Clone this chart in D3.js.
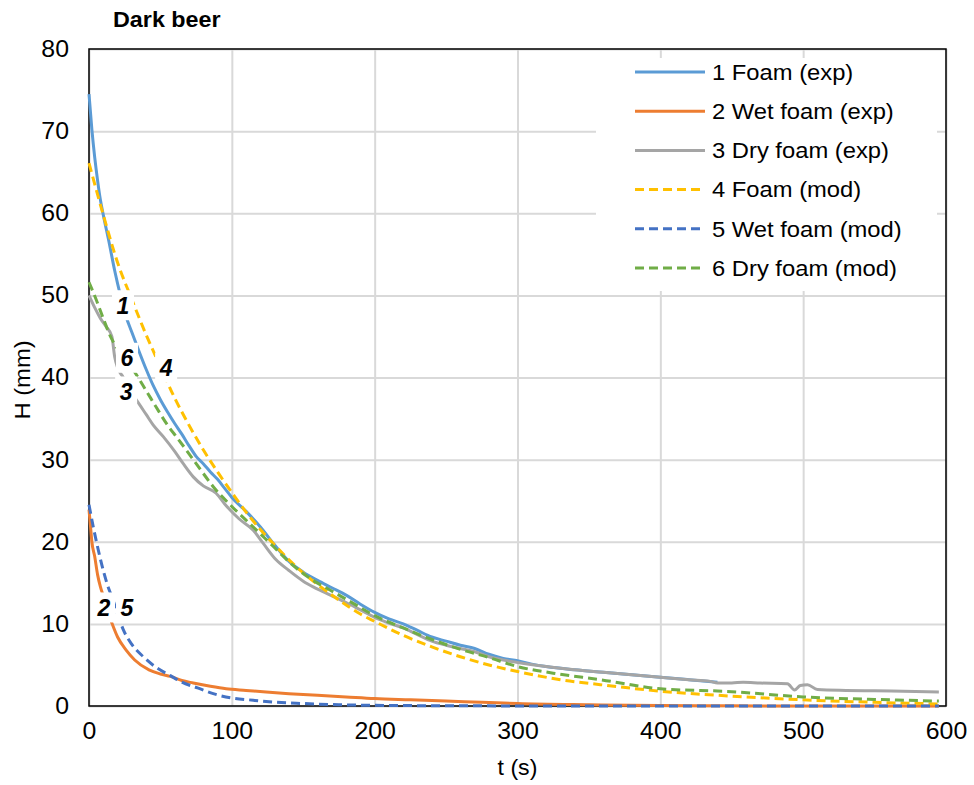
<!DOCTYPE html>
<html>
<head>
<meta charset="utf-8">
<script src="https://cdn.jsdelivr.net/npm/d3@7"></script>
<style>
  body { margin: 0; background: #fff; }
  text { font-family: 'Liberation Sans', Arial, sans-serif; fill: #000; }
  .grid .tick text { font-size: 23px; }
  .grid line { stroke: #d9d9d9; stroke-width: 2; }
  .legend-text { font-size: 22px; }
  .axis-label { font-size: 22px; }
  .curve-label { font-size: 23px; font-weight: bold; font-style: italic; }
</style>
</head>
<body>
<svg width="974" height="785"></svg>
<script>
// series values: [t (s), H (mm)]
const foamExp = [[0,74.5],[2,70.2],[4,66.8],[6,64],[8,61.6],[10,59.8],[14,56.5],[18,53],[22,50],[26,47.4],[30,45.5],[35,43.2],[40,41],[45,39],[50,37.3],[55,35.8],[60,34.4],[65,33.1],[70,31.7],[75,30.4],[80,29.5],[85,28.5],[90,27.6],[95,26.5],[100,25.4],[110,23.7],[120,21.8],[130,19.6],[140,17.6],[150,16.3],[160,15.3],[170,14.4],[180,13.5],[190,12.4],[200,11.4],[210,10.6],[220,10],[230,9.2],[240,8.4],[250,7.9],[260,7.4],[270,7],[280,6.3],[290,5.8],[300,5.5],[310,5.1],[320,4.8],[340,4.4],[360,4.1],[380,3.8],[400,3.5],[420,3.2],[440,2.9]];
const wetExp = [[0,23.9],[1,22],[2,20],[4,18.2],[6,16],[8,14.5],[10,13.4],[13,11.5],[16,10.1],[20,8.4],[26,6.8],[32,5.6],[42,4.4],[50,3.9],[57,3.6],[65,3.1],[73,2.8],[85,2.4],[96,2.1],[110,1.9],[124,1.7],[140,1.5],[160,1.3],[180,1.1],[200,0.9],[225,0.75],[250,0.6],[275,0.45],[300,0.3],[350,0.15],[400,0.05],[450,0.02],[500,0],[595,0]];
const dryExp = [[0,50],[4,48.5],[8,47.2],[12,46.2],[16,45],[18,42.5],[20,41.2],[24,40],[28,38.5],[33,37.3],[40,35.5],[45,34.2],[52,32.8],[60,31],[66,29.5],[73,27.9],[80,26.8],[89,25.9],[95,24.6],[105,22.8],[115,21.4],[122,19.8],[131,17.8],[140,16.5],[150,15.2],[157,14.5],[169,13.5],[180,12.6],[190,11.7],[200,10.8],[210,10.1],[220,9.5],[230,8.7],[240,7.9],[250,7.4],[260,7],[270,6.6],[280,6],[290,5.6],[300,5.3],[320,4.8],[340,4.4],[360,4.1],[380,3.8],[400,3.5],[420,3.2],[435,3],[440,2.8],[450,2.8],[458,2.9],[470,2.8],[489,2.7],[494,1.95],[498,2.5],[503,2.6],[510,2],[530,1.9],[550,1.85],[570,1.8],[595,1.7]];
const foamMod = [[0,66.1],[10,59.8],[20,54],[30,49.5],[40,45.2],[50,41.3],[60,37.5],[70,34.2],[80,31.2],[90,28.5],[100,26],[110,23.6],[120,21.5],[130,19.6],[140,17.8],[150,16.2],[160,14.8],[175,12.9],[190,11.2],[200,10.3],[220,8.6],[240,7.2],[260,6],[280,5],[300,4.2],[330,3.2],[358,2.6],[400,1.8],[450,1.2],[500,0.75],[550,0.45],[595,0.25]];
const wetMod = [[0,24.5],[3,21.8],[6.5,19],[10,16.5],[13,14.7],[16,13.3],[20,11.2],[24,9.3],[30,7.5],[38,6],[47,4.7],[57,3.7],[65,2.9],[76,2.2],[87,1.5],[99,1],[115,0.7],[131,0.45],[150,0.3],[175,0.15],[200,0.08],[250,0.03],[300,0.01],[350,0],[595,0]];
const dryMod = [[0,51.6],[5,49.5],[10,47.2],[15,45],[20,43.5],[25,42.2],[31,40.9],[40,38.4],[47,36.4],[55,34.2],[62,32.6],[68,31.2],[78,28.8],[87,26.7],[100,24.3],[115,21.8],[128,19.6],[141,17.4],[155,15.5],[169,14.1],[185,12.5],[200,11],[220,9.5],[240,8.1],[260,6.9],[280,5.9],[300,4.8],[325,4],[358,3.2],[400,2.1],[450,1.75],[500,1.1],[550,0.8],[595,0.6]];

const seriesNames = ['1 Foam (exp)', '2 Wet foam (exp)', '3 Dry foam (exp)', '4 Foam (mod)', '5 Wet foam (mod)', '6 Dry foam (mod)'];
const seriesData = [foamExp, wetExp, dryExp, foamMod, wetMod, dryMod];
const seriesColors = ['#5b9bd5', '#ed7d31', '#a5a5a5', '#ffc000', '#4472c4', '#70ad47'];
const seriesDashed = [false, false, false, true, true, true];

// curve number labels, anchored in data units
const curveLabels = [
  { text: '1', t: 23.8, h: 48.8 },
  { text: '6', t: 26.6, h: 42.4 },
  { text: '4', t: 54, h: 41.2 },
  { text: '3', t: 26, h: 38.3 },
  { text: '2', t: 10.5, h: 12 },
  { text: '5', t: 26.6, h: 12 }
];

const xTicks = [0, 100, 200, 300, 400, 500, 600];
const yTicks = [0, 10, 20, 30, 40, 50, 60, 70, 80];

const svg = d3.select('svg');
const margin = { top: 49, right: 28, bottom: 79, left: 89 };
const width = +svg.attr('width');
const height = +svg.attr('height');
const innerWidth = width - margin.left - margin.right;
const innerHeight = height - margin.top - margin.bottom;

// the source text is a bit wider than Arial, widen it a touch
const widen = (sel, k) => sel.each(function () {
  const w = this.getComputedTextLength();
  d3.select(this).attr('textLength', w * k).attr('lengthAdjust', 'spacingAndGlyphs');
});

const xScale = d3.scaleLinear().domain([0, 600]).range([0, innerWidth]);
const yScale = d3.scaleLinear().domain([0, 80]).range([innerHeight, 0]);

const g = svg.append('g')
  .attr('transform', `translate(${margin.left},${margin.top})`);

// grid + tick labels
const xAxisG = g.append('g')
  .attr('class', 'grid')
  .attr('transform', `translate(0,${innerHeight})`)
  .call(d3.axisBottom(xScale).tickValues(xTicks).tickSize(-innerHeight).tickPadding(17));
xAxisG.selectAll('.domain').remove();
xAxisG.attr('font-size', null);
widen(xAxisG.selectAll('text'), 1.08);

const yAxisG = g.append('g')
  .attr('class', 'grid')
  .call(d3.axisLeft(yScale).tickValues(yTicks).tickSize(-innerWidth).tickPadding(20));
yAxisG.selectAll('.domain').remove();
yAxisG.attr('font-size', null);
widen(yAxisG.selectAll('text'), 1.08);

// legend background hides the grid behind it
g.append('rect')
  .attr('x', 507).attr('y', 9)
  .attr('width', 341).attr('height', 233)
  .attr('fill', '#fff');

// frame
g.append('rect')
  .attr('width', innerWidth).attr('height', innerHeight)
  .attr('fill', 'none').attr('stroke', '#000').attr('stroke-width', 1.5);

// lines
const line = d3.line()
  .x(d => xScale(d[0]))
  .y(d => yScale(d[1]))
  .curve(d3.curveMonotoneX);

seriesData.forEach((data, i) => {
  g.append('path')
    .datum(data)
    .attr('d', line)
    .attr('fill', 'none')
    .attr('stroke', seriesColors[i])
    .attr('stroke-width', 3)
    .attr('stroke-dasharray', seriesDashed[i] ? '9,5' : null);
});

// curve labels with white boxes
const lab = g.selectAll('.curve-lab')
  .data(curveLabels)
  .enter()
  .append('g')
  .attr('transform', d => `translate(${xScale(d.t)},${yScale(d.h)})`);
lab.append('rect')
  .attr('x', -11).attr('y', -15)
  .attr('width', 22).attr('height', 30)
  .attr('fill', '#fff');
lab.append('text')
  .attr('class', 'curve-label')
  .attr('text-anchor', 'middle')
  .attr('dy', '0.36em')
  .text(d => d.text);

// legend
const legend = g.append('g').attr('transform', 'translate(546,23)');
seriesNames.forEach((name, i) => {
  const row = legend.append('g').attr('transform', `translate(0,${i * 39.2})`);
  row.append('line')
    .attr('x1', 0).attr('x2', 70)
    .attr('stroke', seriesColors[i])
    .attr('stroke-width', 3)
    .attr('stroke-dasharray', seriesDashed[i] ? '9,5' : null);
  row.append('text')
    .attr('class', 'legend-text')
    .attr('x', 77)
    .attr('dy', '0.35em')
    .text(name);
});
widen(legend.selectAll('text'), 1.08);

// title
svg.append('text')
  .text('Dark beer')
  .attr('x', 113).attr('y', 27)
  .style('font-size', '22px')
  .style('font-weight', 'bold')
  .call(widen, 1.06);

// axis titles
svg.append('text')
  .attr('class', 'axis-label')
  .attr('x', margin.left + innerWidth / 2)
  .attr('y', 775)
  .attr('text-anchor', 'middle')
  .text('t (s)')
  .call(widen, 1.05);

svg.append('text')
  .attr('class', 'axis-label')
  .attr('transform', 'rotate(-90)')
  .attr('x', -380)
  .attr('y', 30)
  .attr('text-anchor', 'middle')
  .text('H (mm)')
  .call(widen, 1.08);
</script>
</body>
</html>
